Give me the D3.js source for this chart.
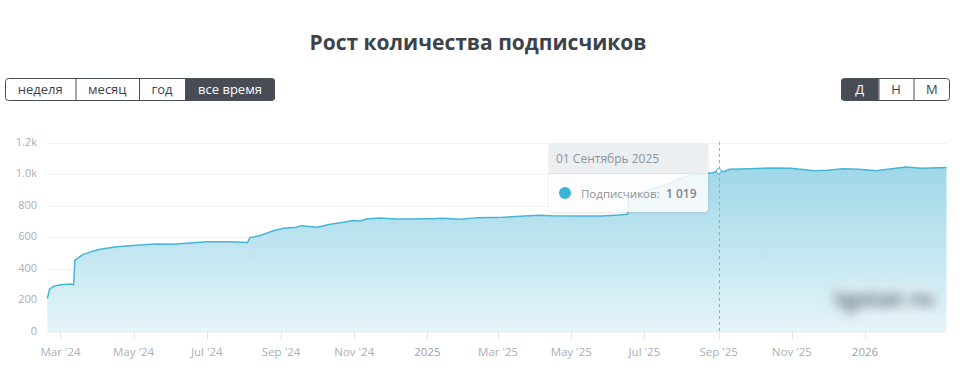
<!DOCTYPE html>
<html>
<head>
<meta charset="utf-8">
<script src="https://cdn.jsdelivr.net/npm/d3@7"></script>
<style>
  body { margin: 0; background: #fff; font-family: "Open Sans", sans-serif; }
</style>
</head>
<body>
<div id="chart"></div>
<script>
// Subscriber counts (date -> value)
let dates = [
  "2024-02-19", "2024-02-21", "2024-02-25", "2024-03-01", "2024-03-09", "2024-03-12",
  "2024-03-13", "2024-03-16", "2024-03-20", "2024-03-28", "2024-04-03", "2024-04-17",
  "2024-05-06", "2024-05-20", "2024-06-03", "2024-06-17", "2024-07-01", "2024-07-20",
  "2024-08-04", "2024-08-06", "2024-08-14", "2024-08-25", "2024-09-03", "2024-09-14",
  "2024-09-18", "2024-10-01", "2024-10-12", "2024-10-23", "2024-10-31", "2024-11-06",
  "2024-11-11", "2024-11-22", "2024-12-06", "2024-12-20", "2025-01-03", "2025-01-14",
  "2025-01-28", "2025-02-13", "2025-03-05", "2025-03-19", "2025-04-04", "2025-04-15",
  "2025-05-05", "2025-05-27", "2025-06-10", "2025-06-17", "2025-06-18", "2025-06-27",
  "2025-07-14", "2025-08-06", "2025-08-22", "2025-08-27", "2025-09-01", "2025-09-06",
  "2025-09-10", "2025-09-27", "2025-10-17", "2025-10-31", "2025-11-20", "2025-12-01",
  "2025-12-13", "2025-12-27", "2026-01-10", "2026-01-20", "2026-02-04", "2026-02-17",
  "2026-03-10"
]
let subscribers = [
  210, 270, 289, 297, 301, 298,
  452, 469, 490, 509, 522, 538,
  549, 556, 554, 562, 570, 570,
  565, 596, 608, 638, 655, 662,
  672, 662, 681, 693, 704, 702,
  714, 721, 714, 714, 716, 719,
  712, 723, 725, 731, 738, 735,
  733, 733, 740, 745, 850, 880,
  919, 989, 1004, 1008, 1019, 1016,
  1030, 1034, 1038, 1036, 1021, 1024,
  1034, 1030, 1021, 1030, 1044, 1036,
  1042
]

let yTicks = [0, 200, 400, 600, 800, 1000, 1200]
let xTickDates = ["2024-03-01", "2024-05-01", "2024-07-01", "2024-09-01", "2024-11-01", "2025-01-01",
  "2025-03-01", "2025-05-01", "2025-07-01", "2025-09-01", "2025-11-01", "2026-01-01"]

let periodButtons = ["неделя", "месяц", "год", "все время"]
let scaleButtons = ["Д", "Н", "М"]

let tooltipDate = "2025-09-01"
let tooltipTitle = "01 Сентябрь 2025"
let tooltipLabel = "Подписчиков:"
let tooltipValue = "1 019"

let width = 962
let height = 381
let parse = d3.timeParse("%Y-%m-%d")

let data = dates.map((d, i) => ({ date: parse(d), value: subscribers[i] }))

let svg = d3.select("#chart").append("svg")
    .attr("width", width)
    .attr("height", height)
    .style("display", "block")

let defs = svg.append("defs")
let grad = defs.append("linearGradient")
    .attr("id", "areaGrad")
    .attr("x1", 0).attr("y1", 0).attr("x2", 0).attr("y2", 1)
grad.append("stop").attr("offset", "0%").attr("stop-color", "#9fd7e9")
grad.append("stop").attr("offset", "100%").attr("stop-color", "#e5f4f9")

let blur = defs.append("filter").attr("id", "blur")
    .attr("x", "-40%").attr("y", "-120%").attr("width", "180%").attr("height", "340%")
blur.append("feGaussianBlur").attr("stdDeviation", 6)

let soft = defs.append("filter").attr("id", "soft")
    .attr("x", "-20%").attr("y", "-40%").attr("width", "140%").attr("height", "180%")
soft.append("feGaussianBlur").attr("stdDeviation", 3)

let shadow = defs.append("filter").attr("id", "shadow")
    .attr("x", "-10%").attr("y", "-10%").attr("width", "120%").attr("height", "130%")
shadow.append("feDropShadow").attr("dx", 0).attr("dy", 1).attr("stdDeviation", 1.5)
    .attr("flood-color", "#000").attr("flood-opacity", 0.12)

// Title
svg.append("text")
    .attr("x", 478)
    .attr("y", 50)
    .attr("text-anchor", "middle")
    .style("font-size", "21px")
    .style("font-weight", 700)
    .style("fill", "#3d434b")
    .text("Рост количества подписчиков")

// Button groups
function buttonGroup(labels, x0, widths, active) {
  let g = svg.append("g")
  let total = d3.sum(widths)
  let x = x0
  labels.forEach((label, i) => {
    let on = i === active
    if (on) {
      let w = widths[i]
      let left = i === 0, right = i === labels.length - 1
      let rr = 3
      let p = d3.path()
      p.moveTo(x + (left ? rr : 0), 78.5)
      p.lineTo(x + w - (right ? rr : 0), 78.5)
      if (right) p.arcTo(x + w, 78.5, x + w, 78.5 + rr, rr)
      p.lineTo(x + w, 100.5 - (right ? rr : 0))
      if (right) p.arcTo(x + w, 100.5, x + w - rr, 100.5, rr)
      p.lineTo(x + (left ? rr : 0), 100.5)
      if (left) p.arcTo(x, 100.5, x, 100.5 - rr, rr)
      p.lineTo(x, 78.5 + (left ? rr : 0))
      if (left) p.arcTo(x, 78.5, x + rr, 78.5, rr)
      p.closePath()
      g.append("path").attr("d", p.toString()).attr("fill", "#474c55")
    }
    g.append("text")
        .attr("x", x + widths[i] / 2)
        .attr("y", 94)
        .attr("text-anchor", "middle")
        .style("font-size", "13px")
        .style("fill", on ? "#fff" : "#3d434b")
        .text(label)
    if (i > 0) {
      g.append("line")
          .attr("x1", x + 0.5).attr("x2", x + 0.5)
          .attr("y1", 78.5).attr("y2", 100.5)
          .attr("stroke", "#4a4f57")
    }
    x += widths[i]
  })
  g.append("rect")
      .attr("x", x0 + 0.5).attr("y", 78.5)
      .attr("width", total - 1).attr("height", 22)
      .attr("rx", 3)
      .attr("fill", "none")
      .attr("stroke", "#4a4f57")
}
buttonGroup(periodButtons, 5, [70.5, 63.5, 46, 90], 3)
buttonGroup(scaleButtons, 841, [37.5, 35, 36.5], 0)

// Scales
let x = d3.scaleTime()
    .domain(d3.extent(data, (d) => d.date))
    .range([47.3, 946.5])
let y = d3.scaleLinear()
    .domain([0, 1200])
    .range([331.5, 142.5])

// Grid + y labels
let yAxis = svg.append("g")
yAxis.selectAll("line")
    .data(yTicks.slice(1))
    .enter().append("line")
    .attr("x1", 47).attr("x2", 947)
    .attr("y1", (d) => Math.round(y(d)) + 0.5)
    .attr("y2", (d) => Math.round(y(d)) + 0.5)
    .attr("stroke", "#f2f2f2")
yAxis.selectAll("text")
    .data(yTicks)
    .enter().append("text")
    .attr("x", 37)
    .attr("y", (d) => y(d) + 3)
    .attr("text-anchor", "end")
    .style("font-size", "11px")
    .style("fill", "#a9afb6")
    .text((d) => d >= 1000 ? (d / 1000).toFixed(1) + "k" : d)

// Area + line
let area = d3.area()
    .x((d) => x(d.date))
    .y0(y(0))
    .y1((d) => y(d.value))
let line = d3.line()
    .x((d) => x(d.date))
    .y((d) => y(d.value))

svg.append("path")
    .datum(data)
    .attr("d", area)
    .attr("fill", "url(#areaGrad)")

// Blurred watermark
let wm = svg.append("g")
wm.append("rect")
    .attr("x", 836).attr("y", 284).attr("width", 98).attr("height", 34)
    .attr("fill", "#ffffff").attr("opacity", 0.25)
    .attr("filter", "url(#soft)")
wm.append("text")
    .attr("x", 884).attr("y", 307)
    .attr("text-anchor", "middle")
    .style("font-size", "22px")
    .style("font-weight", 800)
    .style("fill", "#6f7f87")
    .attr("filter", "url(#blur)")
    .text("tgstat ru")

svg.append("path")
    .datum(data)
    .attr("d", line)
    .attr("fill", "none")
    .attr("stroke", "#45b5d8")
    .attr("stroke-width", 1.5)

// X axis
let xAxis = svg.append("g")
xAxis.append("line")
    .attr("x1", 47).attr("x2", 947)
    .attr("y1", 332).attr("y2", 332)
    .attr("stroke", "#e6e8ea")
let xt = xTickDates.map(parse)
xAxis.selectAll(".tick")
    .data(xt)
    .enter().append("line")
    .attr("x1", (d) => Math.round(x(d)) + 0.5)
    .attr("x2", (d) => Math.round(x(d)) + 0.5)
    .attr("y1", 332).attr("y2", 339)
    .attr("stroke", "#e0e2e4")
xAxis.selectAll("text")
    .data(xt)
    .enter().append("text")
    .attr("x", (d) => x(d))
    .attr("y", 356)
    .attr("text-anchor", "middle")
    .style("font-size", "11.5px")
    .style("fill", (d) => d.getMonth() === 0 ? "#9ba1a8" : "#a9afb6")
    .text((d) => d.getMonth() === 0 ? d3.timeFormat("%Y")(d) : d3.timeFormat("%b '%y")(d))

// Crosshair + marker
let td = parse(tooltipDate)
let tv = data.find((d) => +d.date === +td).value
svg.append("line")
    .attr("x1", Math.round(x(td)) + 0.5).attr("x2", Math.round(x(td)) + 0.5)
    .attr("y1", 142).attr("y2", 331)
    .attr("stroke", "#a3a9b0")
    .attr("stroke-dasharray", "3,3")
svg.append("circle")
    .attr("cx", x(td)).attr("cy", y(tv))
    .attr("r", 2.5)
    .attr("fill", "#fff")
    .attr("stroke", "#45b5d8")
    .attr("stroke-width", 1)

// Tooltip
let tip = svg.append("g").attr("transform", "translate(549,143)")
tip.append("rect")
    .attr("width", 159).attr("height", 69).attr("rx", 4)
    .attr("fill", "rgba(255,255,255,0.85)")
    .attr("filter", "url(#shadow)")
tip.append("path")
    .attr("d", "M0,30.5 L0,4 Q0,0 4,0 L155,0 Q159,0 159,4 L159,30.5 Z")
    .attr("fill", "#eceff1")
tip.append("line")
    .attr("x1", 0).attr("x2", 159).attr("y1", 30.5).attr("y2", 30.5)
    .attr("stroke", "#e0e3e6")
tip.append("text")
    .attr("x", 7).attr("y", 20)
    .style("font-size", "12px")
    .style("fill", "#8c939b")
    .text(tooltipTitle)
tip.append("circle")
    .attr("cx", 16).attr("cy", 50).attr("r", 6)
    .attr("fill", "#3bb2d6")
tip.append("text")
    .attr("x", 32).attr("y", 54.5)
    .style("font-size", "11.5px")
    .style("fill", "#8c939b")
    .text(tooltipLabel)
tip.append("text")
    .attr("x", 117).attr("y", 54.5)
    .style("font-size", "12px")
    .style("font-weight", 600)
    .style("fill", "#7e858d")
    .text(tooltipValue)
</script>
</body>
</html>
